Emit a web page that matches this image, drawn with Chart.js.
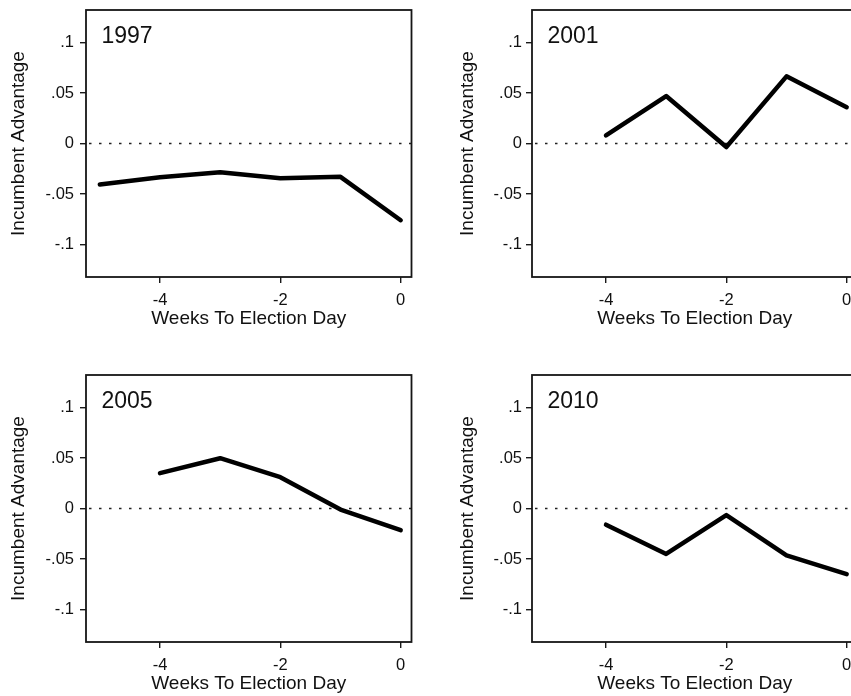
<!DOCTYPE html>
<html>
<head>
<meta charset="utf-8">
<script src="https://cdn.jsdelivr.net/npm/chart.js@4"></script>
<style>
  html, body { margin: 0; padding: 0; background: #fff; }
  #wrap { position: relative; width: 851px; height: 696px; overflow: hidden; background: #fff; }
  .panel { position: absolute; width: 425px; height: 348px; }
  .panel canvas { display: block; }
</style>
</head>
<body>
<div id="wrap">
  <div class="panel" style="left:0px;top:0px;"><canvas id="c0" width="425" height="348"></canvas></div>
  <div class="panel" style="left:446px;top:0px;"><canvas id="c1" width="425" height="348"></canvas></div>
  <div class="panel" style="left:0px;top:365px;"><canvas id="c2" width="425" height="348"></canvas></div>
  <div class="panel" style="left:446px;top:365px;"><canvas id="c3" width="425" height="348"></canvas></div>
</div>
<script>
// ---- data ----
const years = ['1997', '2001', '2005', '2010'];
const weeks = [-5, -4, -3, -2, -1, 0];
const adv1997 = [-0.0405, -0.0335, -0.0285, -0.0345, -0.0330, -0.0760];
const adv2001 = [null, 0.0080, 0.0470, -0.0035, 0.0665, 0.0360];
const adv2005 = [null, 0.0350, 0.0498, 0.0310, -0.0010, -0.0215];
const adv2010 = [null, -0.0160, -0.0450, -0.0065, -0.0465, -0.0650];
const seriesList = [adv1997, adv2001, adv2005, adv2010];

const xTickValues = [-4, -2, 0];
const xTickLabels = ['-4', '-2', '0'];
const yTickValues = [-0.1, -0.05, 0, 0.05, 0.1];
const yTickLabels = ['-.1', '-.05', '0', '.05', '.1'];
const referenceLevel = 0;

const xTitle = 'Weeks To Election Day';
const yTitle = 'Incumbent Advantage';

// ---- styling ----
const FONT = '"Liberation Sans", Arial, Helvetica, sans-serif';
const TXT = '#111';
const xMin = -5.23, xMax = 0.18;
const yMin = -0.1322, yMax = 0.1322;

const boxPlugin = {
  id: 'boxAndRef',
  beforeDatasetsDraw(chart) {
    const {ctx, chartArea: a, scales} = chart;
    const y0 = scales.y.getPixelForValue(referenceLevel);
    ctx.save();
    ctx.strokeStyle = '#222';
    ctx.lineWidth = 1.4;
    ctx.setLineDash([2.5, 7.5]);
    ctx.beginPath();
    ctx.moveTo(a.left + 3, y0);
    ctx.lineTo(a.right, y0);
    ctx.stroke();
    ctx.restore();
  },
  afterDatasetsDraw(chart, args, opts) {
    const {ctx, chartArea: a} = chart;
    ctx.save();
    ctx.strokeStyle = '#161616';
    ctx.lineWidth = 1.8;
    ctx.strokeRect(a.left, a.top, a.right - a.left, a.bottom - a.top);
    ctx.fillStyle = TXT;
    ctx.font = '23px ' + FONT;
    ctx.textAlign = 'left';
    ctx.textBaseline = 'alphabetic';
    ctx.fillText(opts.label, a.left + 15.5, a.top + 33);
    ctx.restore();
  }
};

function makeChart(idx) {
  const vals = seriesList[idx];
  const rightCol = idx % 2 === 1;
  const pts = weeks.map((w, i) => ({x: w, y: vals[i]}));
  new Chart(document.getElementById('c' + idx), {
    type: 'line',
    data: {
      datasets: [{
        data: pts,
        borderColor: '#000',
        borderWidth: 4.5,
        pointRadius: 0,
        tension: 0,
        spanGaps: false,
        borderJoinStyle: 'round',
        borderCapStyle: 'round',
        clip: false
      }]
    },
    options: {
      responsive: false,
      animation: false,
      devicePixelRatio: 1,
      layout: { padding: { top: 10, right: 13.5, left: 0, bottom: 0 } },
      plugins: {
        legend: { display: false },
        tooltip: { enabled: false },
        boxAndRef: { label: years[idx] }
      },
      scales: {
        x: {
          type: 'linear',
          min: xMin, max: xMax,
          afterBuildTicks: s => { s.ticks = xTickValues.map(v => ({value: v})); },
          afterFit: s => { s.height = 71; s.paddingLeft = 0; s.paddingRight = 0; },
          ticks: {
            autoSkip: false, maxRotation: 0,
            padding: 8,
            color: TXT,
            font: { family: FONT, size: 16.5 },
            callback: v => xTickLabels[xTickValues.indexOf(v)]
          },
          grid: { drawOnChartArea: false, drawTicks: true, tickLength: 6, color: '#1a1a1a', lineWidth: 1.4 },
          border: { display: false },
          title: {
            display: true, text: xTitle, color: TXT,
            font: { family: FONT, size: 19 },
            padding: { top: 0, bottom: 18 }
          }
        },
        y: {
          type: 'linear',
          min: yMin, max: yMax,
          afterBuildTicks: s => { s.ticks = yTickValues.map(v => ({value: v})); },
          afterFit: s => { s.width = 86; s.paddingTop = 0; s.paddingBottom = 0; },
          ticks: {
            autoSkip: false,
            padding: rightCol ? 4 : 6,
            color: TXT,
            font: { family: FONT, size: 16.5 },
            callback: v => yTickLabels[yTickValues.indexOf(v)]
          },
          grid: { drawOnChartArea: false, drawTicks: true, tickLength: 6, color: '#1a1a1a', lineWidth: 1.4 },
          border: { display: false },
          title: {
            display: true, text: yTitle, color: TXT,
            font: { family: FONT, size: 19 },
            padding: { top: rightCol ? 10.5 : 7, bottom: 0 }
          }
        }
      }
    },
    plugins: [boxPlugin]
  });
}
[0, 1, 2, 3].forEach(makeChart);
</script>
</body>
</html>
